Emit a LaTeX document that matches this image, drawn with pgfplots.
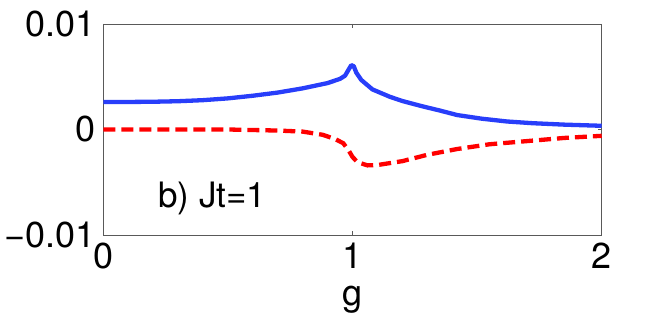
\documentclass[border=0pt]{standalone}
\usepackage{pgfplots}
\pgfplotsset{compat=1.18}
\usepackage{fontspec}
\setmainfont{TeX Gyre Heros}
\definecolor{mblue}{RGB}{40,62,250}
\definecolor{mred}{RGB}{255,0,0}
\begin{document}
\begin{tikzpicture}
\useasboundingbox (0pt,0pt) rectangle (664pt,320pt);
\begin{axis}[
    at={(103.3pt,85pt)}, anchor=south west,
    scale only axis,
    width=498.4pt, height=211pt,
    xmin=0, xmax=2, ymin=-0.01, ymax=0.01,
    scaled y ticks=false,
    xtick={0,1,2}, xticklabels={0,1,2},
    ytick={-0.01,0,0.01}, yticklabels={−0.01,0,0.01},
    tick align=inside, major tick length=4pt,
    axis line style={draw=black!65, line width=0.6pt},
    tick style={draw=black!65, line width=0.6pt},
    ticklabel style={font=\fontsize{36}{40}\selectfont},
    xticklabel style={yshift=-4pt},
    yticklabel style={xshift=-4pt},
    clip=false,
]
\addplot[mblue, line width=4.3pt, line join=round] coordinates {
 (0,0.0026) (0.1,0.00261) (0.2,0.00263) (0.3,0.00268) (0.4,0.00278)
 (0.5,0.00295) (0.6,0.0032) (0.7,0.0035) (0.8,0.0039) (0.9,0.0044)
 (0.95,0.0048) (0.97,0.0051) (0.985,0.0057) (0.995,0.0061) (1.005,0.0060)
 (1.015,0.0054) (1.035,0.0047) (1.08,0.0038) (1.15,0.0031) (1.2,0.0027)
 (1.28,0.0022) (1.35,0.0018) (1.42,0.00137) (1.52,0.00102) (1.62,0.00076)
 (1.72,0.0006) (1.85,0.00046) (2,0.00035)
};
\addplot[mred, line width=4.3pt, dash pattern=on 12pt off 6pt] coordinates {
 (0,0) (0.5,0) (0.7,-0.0001) (0.8,-0.0002) (0.88,-0.0005) (0.93,-0.0009)
 (0.963,-0.0013) (0.985,-0.0020) (1.0,-0.0026) (1.02,-0.0031) (1.06,-0.0034)
 (1.1,-0.00337) (1.2,-0.0030) (1.3,-0.0024) (1.42,-0.00185) (1.55,-0.0014)
 (1.7,-0.0011) (1.85,-0.0008) (2,-0.0006)
};
\node[anchor=base west, inner sep=0pt, font=\fontsize{35}{40}\selectfont]
  at (axis cs:0.22,-0.0074) {b) Jt=1};
\end{axis}
\node[anchor=base, inner sep=0pt, font=\fontsize{36}{40}\selectfont]
  at (352.5pt,14pt) {g};
\end{tikzpicture}
\end{document}
